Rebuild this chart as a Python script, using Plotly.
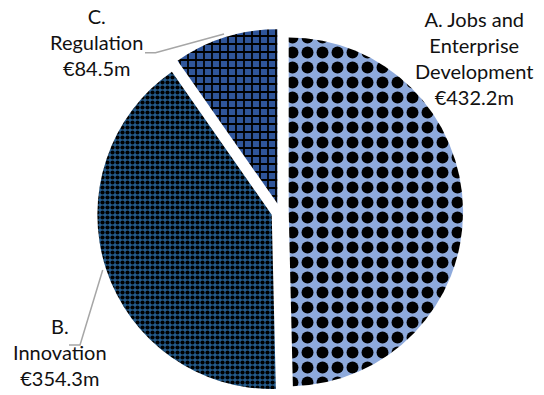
import math
import plotly.graph_objects as go

# Budget allocation by programme (EUR millions)
categories = ["A. Jobs and Enterprise Development", "B. Innovation", "C. Regulation"]
label_lines = [["A. Jobs and", "Enterprise", "Development"], ["B.", "Innovation"], ["C.", "Regulation"]]
values = [432.2, 354.3, 84.5]

# Figure / pie layout
W, H = 544, 395
dom_x = [0.1765, 0.8529]
dom_y = [0.0, 0.927]
PULL = 0.05

fill_colors = ["#8EAADC", "#245B8C", "#2F559A"]
pattern_shapes = [".", ".", "+"]
pattern_fg = ["#000000", "#000000", "#000000"]
pattern_size = [15, 5, 8]
pattern_solidity = [0.5, 0.55, 0.4]

fig = go.Figure(
    go.Pie(
        labels=categories,
        values=values,
        sort=False,
        direction="clockwise",
        rotation=0,
        pull=[PULL] * len(values),
        textinfo="none",
        hoverinfo="label+value",
        domain=dict(x=dom_x, y=dom_y),
        marker=dict(
            colors=fill_colors,
            line=dict(width=0),
            pattern=dict(
                shape=pattern_shapes,
                fgcolor=pattern_fg,
                bgcolor=fill_colors,
                size=pattern_size,
                solidity=pattern_solidity,
                fillmode="replace",
            ),
        ),
        showlegend=False,
    )
)

# Pie geometry in pixels (same rule plotly uses to size the pie)
box_w = W * (dom_x[1] - dom_x[0])
box_h = H * (dom_y[1] - dom_y[0])
cx = W * (dom_x[0] + dom_x[1]) / 2
cy = H * (1 - dom_y[0]) - box_h / 2
r = min(box_w, box_h) / 2 / (1 + PULL)

total = sum(values)
mid_angles = []
acc = 0.0
for v in values:
    mid_angles.append(2 * math.pi * (acc + v / 2) / total)
    acc += v


def edge_point(i, k=1.02):
    """Point on slice i's outer arc along its bisector (pixels)."""
    a = mid_angles[i]
    d = PULL * r + k * r
    return cx + d * math.sin(a), cy - d * math.cos(a)


def to_paper(px, py):
    return px / W, 1 - py / H


# Label blocks: centre position in pixels
label_pos = [(474, 58), (60, 352), (96, 42)]
# Leader lines: start at the label side, short horizontal run, then to slice
leader_start = {1: [(69, 345), (80, 345)], 2: [(145, 52.7), (155.5, 52.7)]}

text_font = dict(family="Lato, Open Sans, sans-serif", size=20, color="#111111")

for i, (lines, v) in enumerate(zip(label_lines, values)):
    x, y = to_paper(*label_pos[i])
    fig.add_annotation(
        x=x, y=y, xref="paper", yref="paper",
        text="<br>".join(lines + [f"€{v:.1f}m"]),
        showarrow=False, xanchor="center", yanchor="middle",
        align="center", font=text_font,
    )

for i, pts in leader_start.items():
    pts = pts + [edge_point(i)]
    path = "M " + " L ".join(f"{a:.4f},{b:.4f}" for a, b in (to_paper(*p) for p in pts))
    fig.add_shape(
        type="path", path=path, xref="paper", yref="paper",
        line=dict(color="#A6A6A6", width=1.5),
    )

fig.update_layout(
    width=W, height=H,
    margin=dict(l=0, r=0, t=0, b=0),
    paper_bgcolor="white",
    plot_bgcolor="white",
)

fig.write_html("out.html")
